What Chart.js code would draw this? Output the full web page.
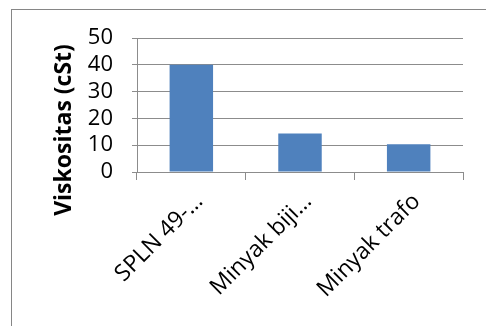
<!DOCTYPE html>
<html>
<head>
<meta charset="utf-8">
<script src="https://cdn.jsdelivr.net/npm/chart.js@4"></script>
<style>
  html, body { margin: 0; padding: 0; background: #fff; overflow: hidden; }
  #wrap { position: relative; width: 486px; height: 326px; overflow: hidden; }
  #frame { position: absolute; left: 11px; top: 9px; width: 520px; height: 400px; border: 1px solid #868686; }
  canvas { position: absolute; left: 0; top: 0; }
</style>
</head>
<body>
<div id="wrap">
  <div id="frame"></div>
  <canvas id="chart" width="486" height="326"></canvas>
</div>
<script>
const categories = ['SPLN 49-…', 'Minyak biji…', 'Minyak trafo'];
const viskositas = [40, 14.4, 10.4];
const yTicks = [0, 10, 20, 30, 40, 50];
const yTitle = 'Viskositas (cSt)';

const FONT = '"Open Sans", "Liberation Sans", sans-serif';

// y-axis title, drawn centred on the axis block like Excel does
const yTitlePlugin = {
  id: 'yTitle',
  afterDraw(chart) {
    const ctx = chart.ctx;
    ctx.save();
    ctx.translate(64, 130);
    ctx.rotate(-Math.PI / 2);
    ctx.font = 'bold 23px ' + FONT;
    ctx.fillStyle = '#000';
    ctx.textAlign = 'center';
    ctx.textBaseline = 'middle';
    ctx.fillText(yTitle, 0, 0);
    ctx.restore();
  }
};

new Chart(document.getElementById('chart'), {
  type: 'bar',
  data: {
    labels: categories,
    datasets: [{
      data: viskositas,
      backgroundColor: '#4F81BD',
      borderWidth: 0,
      barPercentage: 0.4,
      categoryPercentage: 1
    }]
  },
  options: {
    responsive: false,
    animation: false,
    layout: { padding: { top: 38, right: 23, left: 0, bottom: 0 } },
    plugins: { legend: { display: false }, tooltip: { enabled: false } },
    scales: {
      x: {
        afterFit(scale) { scale.height = 326 - 172; },
        grid: { display: true, drawOnChartArea: false, offset: true, tickLength: 8, color: '#8c8c8c' },
        border: { color: '#8c8c8c', width: 1 },
        ticks: { autoSkip: false, minRotation: 45, maxRotation: 45, padding: 8, labelOffset: 8, color: '#000', font: { family: FONT, size: 23 } }
      },
      y: {
        min: 0,
        max: 50,
        afterFit(scale) { scale.width = 137; },
        afterBuildTicks(scale) { scale.ticks = yTicks.map(v => ({ value: v })); },
        grid: { color: '#8c8c8c', tickLength: 5 },
        border: { color: '#8c8c8c', width: 1 },
        ticks: { autoSkip: false, padding: 19, color: '#000', font: { family: FONT, size: 22 } }
      }
    }
  },
  plugins: [yTitlePlugin]
});
</script>
</body>
</html>
